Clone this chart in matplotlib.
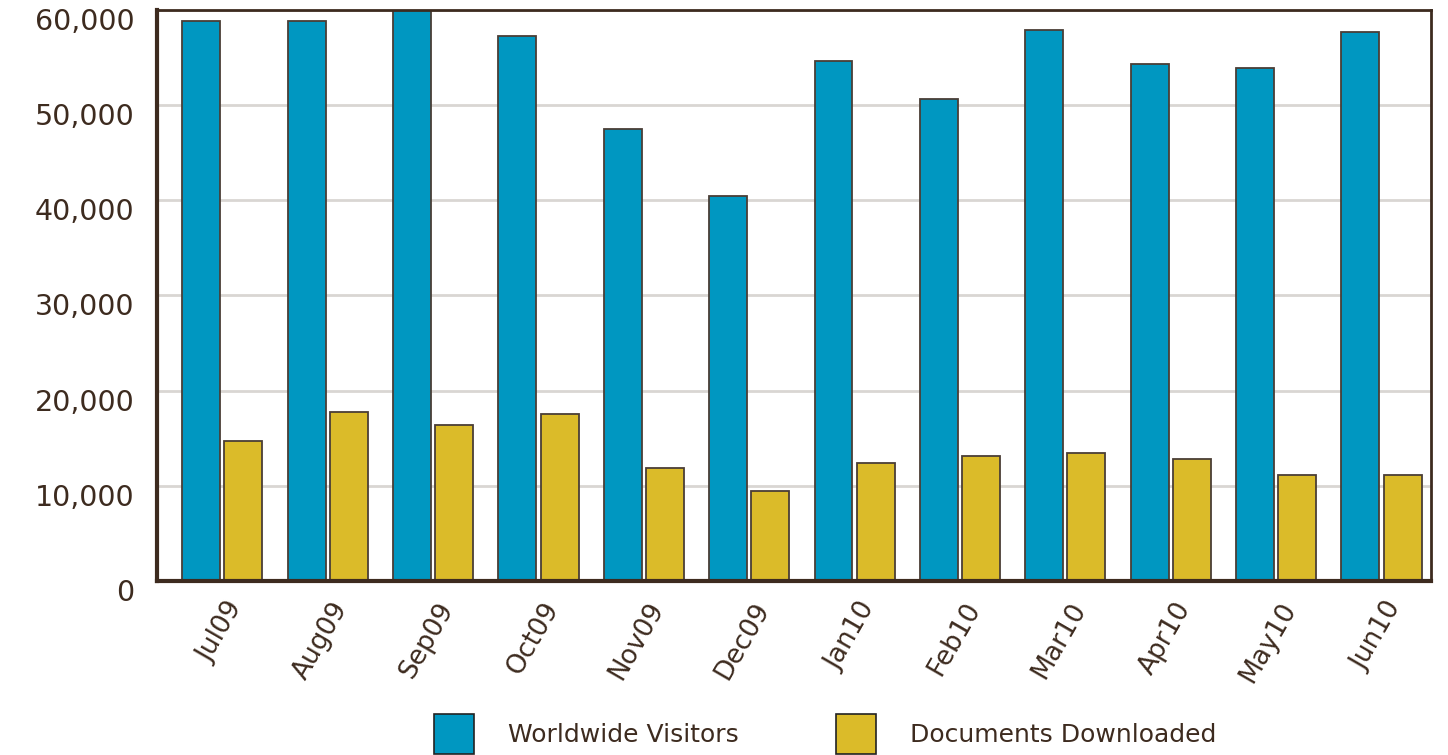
import numpy as np
import matplotlib
matplotlib.use('Agg')
import matplotlib.pyplot as plt
from matplotlib.patches import Patch
from matplotlib.ticker import FuncFormatter
from matplotlib.transforms import ScaledTranslation

months = ['Jul09', 'Aug09', 'Sep09', 'Oct09', 'Nov09', 'Dec09',
          'Jan10', 'Feb10', 'Mar10', 'Apr10', 'May10', 'Jun10']
visitors = [58850, 58850, 60100, 57250, 47450, 40400,
            54650, 50650, 57900, 54300, 53900, 57700]
downloads = [14750, 17800, 16400, 17500, 11900, 9450,
             12350, 13150, 13450, 12850, 11150, 11150]

dark = '#3d2b1f'
blue = '#0097c1'
yellow = '#dbbb29'
edge = '#4a3e36'

plt.rcParams['font.family'] = 'DejaVu Sans'

fig = plt.figure(figsize=(14.48, 7.55), dpi=100)
ax = fig.add_axes([0.1084, 0.2305, 0.8799, 0.7563])

x = np.arange(len(months))
w = 0.36
ax.bar(x - 0.2, visitors, w, color=blue, edgecolor=edge, linewidth=1.3, zorder=3)
ax.bar(x + 0.2, downloads, w, color=yellow, edgecolor=edge, linewidth=1.3, zorder=3)

ax.set_xlim(-0.62, 11.47)
ax.set_ylim(0, 60000)
ax.set_yticks(np.arange(0, 60001, 10000))
ax.yaxis.set_major_formatter(FuncFormatter(lambda v, p: f'{int(v):,}'))
ax.grid(axis='y', color='#d9d6d3', linewidth=2, zorder=0)
ax.set_axisbelow(True)

for side in ['left', 'bottom']:
    ax.spines[side].set_linewidth(3)
for side in ['top', 'right']:
    ax.spines[side].set_linewidth(2)
for s in ax.spines.values():
    s.set_color(dark)
    s.set_zorder(4)

ax.tick_params(axis='y', length=0, pad=16, labelsize=20.5, labelcolor=dark)
ax.tick_params(axis='x', length=0, pad=12, labelsize=19, labelcolor=dark)

ax.set_xticks(x)
ax.set_xticklabels(months, rotation=60, ha='right', va='top', rotation_mode='anchor')
for lab in ax.get_xticklabels():
    lab.set_transform(lab.get_transform() + ScaledTranslation(0.03, 0, fig.dpi_scale_trans))
for lab in ax.get_yticklabels():
    lab.set_transform(lab.get_transform() + ScaledTranslation(0, -0.09, fig.dpi_scale_trans))

handles = [Patch(facecolor=blue, edgecolor='#222222', linewidth=1.2),
           Patch(facecolor=yellow, edgecolor='#222222', linewidth=1.2)]
fig.legend(handles, ['Worldwide Visitors', 'Documents Downloaded'],
           loc='center', bbox_to_anchor=(0.570, 0.028), ncol=2, frameon=False,
           fontsize=18, labelcolor=dark, handlelength=1.6, handleheight=2.1,
           handletextpad=1.36, columnspacing=3.9, borderpad=0)

fig.savefig('out.png', dpi=100)
